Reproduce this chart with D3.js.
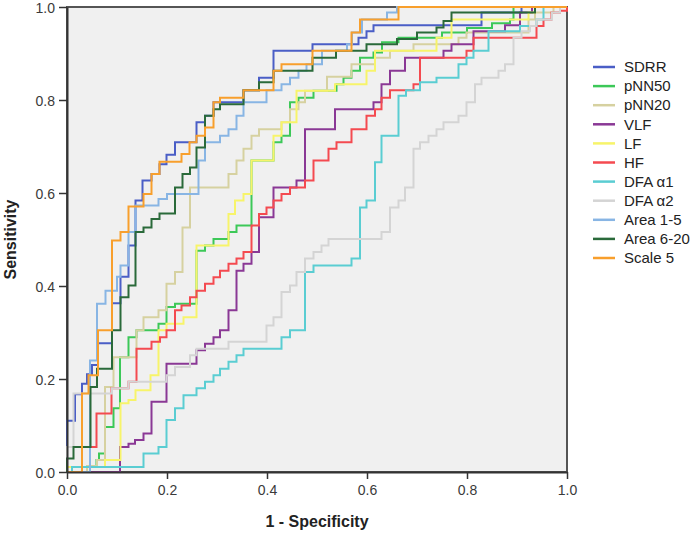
<!DOCTYPE html>
<html>
<head>
<meta charset="utf-8">
<script src="https://cdn.jsdelivr.net/npm/d3@7"></script>
<style>
  body { margin: 0; background: #fff; }
  svg { font-family: "Liberation Sans", Arial, sans-serif; }
</style>
</head>
<body>
<svg id="chart" width="700" height="535"></svg>
<script>
// ROC curves: each point is [1 - specificity, sensitivity]
const sdrr = [[0,0],[0,0.11],[0.016,0.167],[0.03,0.19],[0.04,0.21],[0.05,0.23],[0.062,0.277],[0.09,0.363],[0.107,0.42],[0.123,0.487],[0.137,0.584],[0.151,0.627],[0.169,0.641],[0.185,0.662],[0.199,0.682],[0.216,0.709],[0.259,0.752],[0.276,0.766],[0.293,0.795],[0.353,0.821],[0.384,0.848],[0.413,0.906],[0.491,0.92],[0.583,0.934],[0.599,0.948],[0.613,0.961],[0.829,0.988],[0.909,1],[1,1]];
const pnn50 = [[0,0],[0.046,0.013],[0.059,0.026],[0.064,0.04],[0.076,0.097],[0.093,0.137],[0.106,0.247],[0.123,0.29],[0.139,0.305],[0.183,0.319],[0.199,0.355],[0.216,0.362],[0.259,0.476],[0.276,0.487],[0.293,0.501],[0.323,0.516],[0.339,0.53],[0.369,0.67],[0.413,0.709],[0.429,0.723],[0.446,0.795],[0.463,0.805],[0.493,0.82],[0.539,0.834],[0.553,0.848],[0.569,0.863],[0.586,0.891],[0.613,0.902],[0.63,0.924],[0.663,0.934],[0.75,0.945],[0.8,0.955],[0.85,0.965],[0.886,0.973],[0.893,1],[1,1]];
const pnn20 = [[0,0],[0.04,0.013],[0.06,0.026],[0.076,0.183],[0.093,0.247],[0.139,0.305],[0.153,0.333],[0.183,0.348],[0.199,0.405],[0.216,0.43],[0.231,0.526],[0.246,0.612],[0.323,0.641],[0.339,0.67],[0.353,0.695],[0.369,0.723],[0.384,0.737],[0.429,0.752],[0.446,0.78],[0.463,0.795],[0.476,0.82],[0.52,0.85],[0.569,0.877],[0.616,0.891],[0.646,0.906],[0.693,0.92],[0.783,0.934],[0.799,0.945],[0.923,0.973],[0.936,0.988],[0.973,1],[1,1]];
const vlf = [[0,0],[0.106,0.054],[0.123,0.061],[0.136,0.069],[0.153,0.083],[0.169,0.151],[0.199,0.233],[0.259,0.262],[0.276,0.276],[0.293,0.29],[0.306,0.305],[0.323,0.348],[0.339,0.433],[0.353,0.448],[0.369,0.473],[0.384,0.548],[0.413,0.612],[0.459,0.627],[0.476,0.737],[0.536,0.78],[0.613,0.795],[0.629,0.834],[0.646,0.863],[0.676,0.891],[0.753,0.906],[0.769,0.92],[0.813,0.948],[0.876,0.961],[0.906,0.988],[0.93,1],[1,1]];
const lf = [[0,0],[0,0.011],[0.076,0.026],[0.107,0.148],[0.123,0.155],[0.137,0.176],[0.167,0.208],[0.183,0.305],[0.199,0.319],[0.233,0.333],[0.259,0.487],[0.323,0.555],[0.336,0.584],[0.353,0.598],[0.369,0.67],[0.413,0.723],[0.429,0.752],[0.459,0.82],[0.536,0.834],[0.599,0.863],[0.616,0.906],[0.739,0.934],[0.769,0.973],[0.923,0.988],[0.936,1],[1,1]];
const hf = [[0,0],[0.046,0.054],[0.059,0.126],[0.089,0.18],[0.123,0.194],[0.139,0.265],[0.169,0.28],[0.186,0.29],[0.199,0.305],[0.216,0.348],[0.229,0.358],[0.246,0.376],[0.259,0.39],[0.276,0.405],[0.293,0.419],[0.306,0.433],[0.323,0.448],[0.339,0.459],[0.353,0.473],[0.369,0.53],[0.384,0.555],[0.399,0.569],[0.413,0.584],[0.429,0.598],[0.446,0.612],[0.476,0.627],[0.493,0.67],[0.523,0.695],[0.539,0.709],[0.569,0.737],[0.599,0.766],[0.616,0.78],[0.629,0.805],[0.646,0.821],[0.693,0.834],[0.706,0.891],[0.799,0.906],[0.813,0.934],[0.939,0.959],[0.953,0.973],[0.969,0.988],[0.986,0.992],[1,1]];
const dfa1 = [[0,0],[0.01,0.011],[0.153,0.04],[0.183,0.054],[0.199,0.112],[0.216,0.137],[0.233,0.165],[0.259,0.18],[0.276,0.194],[0.293,0.208],[0.306,0.222],[0.323,0.237],[0.339,0.251],[0.353,0.265],[0.429,0.29],[0.446,0.305],[0.476,0.43],[0.493,0.444],[0.569,0.459],[0.586,0.569],[0.599,0.584],[0.616,0.666],[0.629,0.723],[0.663,0.809],[0.678,0.821],[0.706,0.838],[0.739,0.848],[0.783,0.877],[0.799,0.891],[0.813,0.906],[0.843,0.948],[0.906,0.959],[0.939,0.973],[0.953,1],[1,1]];
const dfa2 = [[0,0],[0,0.054],[0.013,0.169],[0.09,0.18],[0.123,0.194],[0.199,0.208],[0.216,0.226],[0.246,0.251],[0.259,0.265],[0.323,0.28],[0.399,0.315],[0.413,0.333],[0.429,0.387],[0.446,0.401],[0.459,0.43],[0.476,0.459],[0.493,0.473],[0.509,0.487],[0.523,0.501],[0.629,0.516],[0.646,0.569],[0.663,0.584],[0.676,0.612],[0.693,0.695],[0.706,0.709],[0.723,0.723],[0.739,0.737],[0.753,0.752],[0.783,0.766],[0.799,0.795],[0.816,0.834],[0.829,0.848],[0.863,0.863],[0.876,0.877],[0.893,0.934],[0.909,0.948],[0.926,0.959],[0.939,0.973],[0.97,0.988],[0.986,1],[1,1]];
const area15 = [[0,0],[0.046,0.24],[0.06,0.362],[0.077,0.39],[0.1,0.42],[0.107,0.444],[0.123,0.516],[0.137,0.573],[0.183,0.587],[0.2,0.598],[0.263,0.67],[0.276,0.709],[0.306,0.723],[0.323,0.737],[0.339,0.766],[0.353,0.795],[0.399,0.821],[0.429,0.834],[0.446,0.848],[0.463,0.863],[0.479,0.877],[0.51,0.906],[0.56,0.92],[0.57,0.945],[0.59,0.973],[0.64,0.988],[0.66,1],[1,1]];
const area620 = [[0,0],[0,0.029],[0.013,0.054],[0.047,0.183],[0.06,0.222],[0.09,0.305],[0.107,0.376],[0.123,0.401],[0.137,0.516],[0.153,0.526],[0.169,0.544],[0.185,0.556],[0.216,0.612],[0.231,0.641],[0.246,0.655],[0.259,0.698],[0.276,0.766],[0.293,0.78],[0.306,0.791],[0.353,0.821],[0.384,0.838],[0.413,0.863],[0.491,0.891],[0.538,0.906],[0.599,0.92],[0.66,0.931],[0.7,0.945],[0.739,0.956],[0.753,0.97],[0.769,0.988],[0.936,1],[1,1]];
const scale5 = [[0,0],[0.03,0.169],[0.043,0.208],[0.062,0.305],[0.09,0.498],[0.107,0.516],[0.123,0.571],[0.153,0.598],[0.169,0.641],[0.185,0.667],[0.229,0.684],[0.245,0.709],[0.259,0.723],[0.276,0.741],[0.293,0.795],[0.306,0.805],[0.353,0.821],[0.413,0.863],[0.429,0.877],[0.491,0.906],[0.569,0.945],[0.586,0.973],[0.663,1],[1,1]];

const names = ['SDRR', 'pNN50', 'pNN20', 'VLF', 'LF', 'HF', 'DFA \u03b11', 'DFA \u03b12', 'Area 1-5', 'Area 6-20', 'Scale 5'];
const curves = [sdrr, pnn50, pnn20, vlf, lf, hf, dfa1, dfa2, area15, area620, scale5];
const colors = ['#4a5ec6', '#3cc858', '#d6d1a0', '#8a3895', '#f7f46a', '#f44a50', '#5acdd2', '#d4d4d4', '#88b5e4', '#2a6a3a', '#f89f2c'];
const ticks = [0, 0.2, 0.4, 0.6, 0.8, 1.0];

const margin = { top: 7, left: 67 };
const width = 500, height = 465;
const svg = d3.select('#chart');
const g = svg.append('g').attr('transform', `translate(${margin.left},${margin.top})`);

const x = d3.scaleLinear().domain([0, 1]).range([0, width]);
const y = d3.scaleLinear().domain([0, 1]).range([height, 0]);

g.append('rect')
  .attr('width', width).attr('height', height)
  .attr('fill', '#f0f0f0')
  .attr('stroke', '#555').attr('stroke-width', 2);

const line = d3.line()
  .x(d => x(d[0]))
  .y(d => y(d[1]))
  .curve(d3.curveStepAfter);

g.selectAll('.roc')
  .data(curves)
  .enter().append('path')
    .attr('class', 'roc')
    .attr('d', line)
    .attr('fill', 'none')
    .attr('stroke', (d, i) => colors[i])
    .attr('stroke-width', 2);

// axes
const xAxis = g.append('g')
  .attr('transform', `translate(0,${height})`)
  .call(d3.axisBottom(x).tickValues(ticks).tickFormat(d3.format('.1f')).tickSize(7).tickSizeOuter(0));
const yAxis = g.append('g')
  .call(d3.axisLeft(y).tickValues(ticks).tickFormat(d3.format('.1f')).tickSize(8).tickSizeOuter(0));
[xAxis, yAxis].forEach(a => {
  a.select('.domain').attr('stroke', '#333').attr('stroke-width', 2);
  a.selectAll('.tick line').attr('stroke', '#333').attr('stroke-width', 1.5);
  a.selectAll('.tick text').attr('fill', '#3a3a3a').style('font-size', '14px');
});
xAxis.selectAll('.tick text').attr('dy', '0.9em');
yAxis.selectAll('.tick text').attr('x', -12).attr('dy', '0.4em');

svg.append('text')
  .attr('x', margin.left + width / 2).attr('y', 527)
  .attr('text-anchor', 'middle')
  .style('font-size', '16px').style('font-weight', 'bold').attr('fill', '#222')
  .text('1 - Specificity');
svg.append('text')
  .attr('transform', `translate(16,${margin.top + height / 2}) rotate(-90)`)
  .attr('text-anchor', 'middle')
  .style('font-size', '16px').style('font-weight', 'bold').attr('fill', '#222')
  .text('Sensitivity');

// legend
const legend = svg.append('g').attr('transform', 'translate(593,67)');
const item = legend.selectAll('.item')
  .data(names)
  .enter().append('g')
    .attr('transform', (d, i) => `translate(0,${i * 19.1})`);
item.append('line')
  .attr('x1', 0).attr('x2', 22)
  .attr('stroke', (d, i) => colors[i])
  .attr('stroke-width', 2.5);
item.append('text')
  .attr('x', 31).attr('dy', '0.35em')
  .style('font-size', '15px').attr('fill', '#222')
  .text(d => d);
</script>
</body>
</html>
